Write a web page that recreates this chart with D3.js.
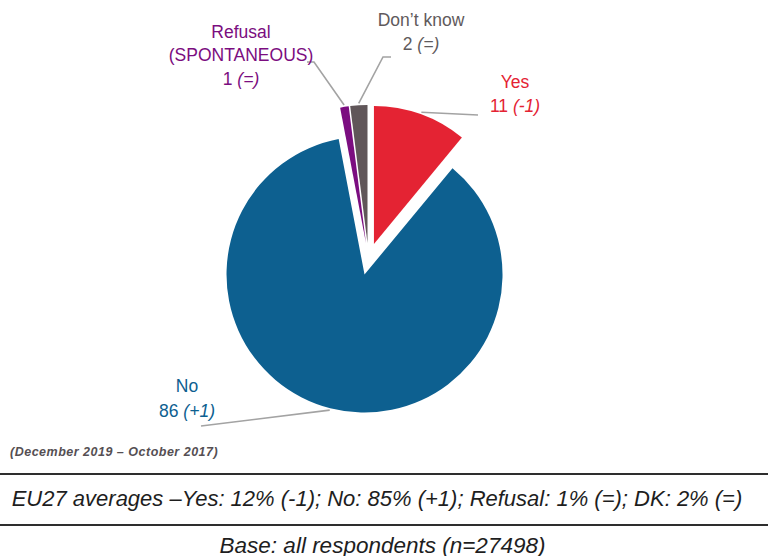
<!DOCTYPE html>
<html>
<head>
<meta charset="utf-8">
<script src="https://cdn.jsdelivr.net/npm/d3@7/dist/d3.min.js"></script>
<style>
  html, body { margin: 0; padding: 0; background: #fff; }
  svg { display: block; font-family: "Liberation Sans", Arial, sans-serif; }
</style>
</head>
<body>
<svg id="chart" width="768" height="556"></svg>
<script>
// Survey answers (%), with change since previous wave
const categories = ["Yes", "No", "Refusal (SPONTANEOUS)", "Don't know"];
const values = [11, 86, 1, 2];
const changes = ["-1", "+1", "=", "="];
const labelLines = [["Yes"], ["No"], ["Refusal", "(SPONTANEOUS)"], ["Don\u2019t know"]];
const colors = ["#e42333", "#0d6090", "#7b0d80", "#605659"];
const labelColors = ["#e42333", "#0d6090", "#7b0d80", "#5f5a5c"];

const period = "(December 2019 \u2013 October 2017)";
const averages = "EU27 averages \u2013Yes: 12% (-1); No: 85% (+1); Refusal: 1% (=); DK: 2% (=)";
const base = "Base: all respondents (n=27498)";

const svg = d3.select("#chart");
const cx = 368.5, cy = 259, radius = 138, explode = 16;

const pie = d3.pie().sort(null).value(d => d.value);
const arcs = pie(categories.map((c, i) => ({ name: c, value: values[i], i })));
const arc = d3.arc().innerRadius(0).outerRadius(radius);

const g = svg.append("g").attr("transform", `translate(${cx},${cy})`);

function offset(a) {
  const m = (a.startAngle + a.endAngle) / 2;
  return [Math.sin(m) * explode, -Math.cos(m) * explode];
}

g.selectAll("path.slice")
  .data(arcs)
  .join("path")
  .attr("class", "slice")
  .attr("d", arc)
  .attr("fill", d => colors[d.data.i])
  .attr("transform", d => `translate(${offset(d)})`);

// label layout: text centre x, first baseline, line step, leader path (label end, optional elbow)
const labelLayout = [
  { x: 515, y: 88, step: 24, leader: [[478, 115]] },
  { x: 187, y: 392, step: 24.5, leader: [[201, 426]] },
  { x: 241, y: 37.5, step: 23.5, leader: [[307, 62], [314, 62]] },
  { x: 421, y: 26, step: 24, leader: [[391, 57], [383, 57]] }
];

const leader = d3.line();
arcs.forEach(a => {
  const i = a.data.i;
  const L = labelLayout[i];
  const [ox, oy] = offset(a);
  const m = (a.startAngle + a.endAngle) / 2;
  const edge = [cx + ox + Math.sin(m) * (radius + 2), cy + oy - Math.cos(m) * (radius + 2)];
  svg.append("path")
    .attr("d", leader([...L.leader, edge]))
    .attr("fill", "none")
    .attr("stroke", "#a3a3a3")
    .attr("stroke-width", 1.6);

  const t = svg.append("text")
    .attr("text-anchor", "middle")
    .attr("fill", labelColors[i])
    .attr("font-size", 17.5);
  const lines = labelLines[i];
  lines.forEach((ln, k) => {
    t.append("tspan").attr("x", L.x).attr("y", L.y + k * L.step).text(ln);
  });
  const vy = L.y + lines.length * L.step;
  const vt = t.append("tspan").attr("x", L.x).attr("y", vy);
  vt.append("tspan").text(values[i] + " ");
  t.append("tspan").attr("font-style", "italic").text("(" + changes[i] + ")");
});

svg.append("text")
  .attr("x", 10).attr("y", 456)
  .attr("font-size", 12.5).attr("font-weight", "bold").attr("font-style", "italic")
  .attr("letter-spacing", 0.5)
  .attr("fill", "#554f53")
  .text(period);

[474, 525].forEach(y => {
  svg.append("line")
    .attr("x1", 0).attr("x2", 768).attr("y1", y).attr("y2", y)
    .attr("stroke", "#2e2e2e").attr("stroke-width", 2);
});

svg.append("text")
  .attr("x", 377).attr("y", 506)
  .attr("text-anchor", "middle")
  .attr("font-size", 22).attr("font-style", "italic")
  .attr("fill", "#1e1e1e")
  .text(averages);

svg.append("text")
  .attr("x", 382.5).attr("y", 552.5)
  .attr("text-anchor", "middle")
  .attr("font-size", 22.5).attr("font-style", "italic")
  .attr("fill", "#1e1e1e")
  .text(base);
</script>
</body>
</html>
